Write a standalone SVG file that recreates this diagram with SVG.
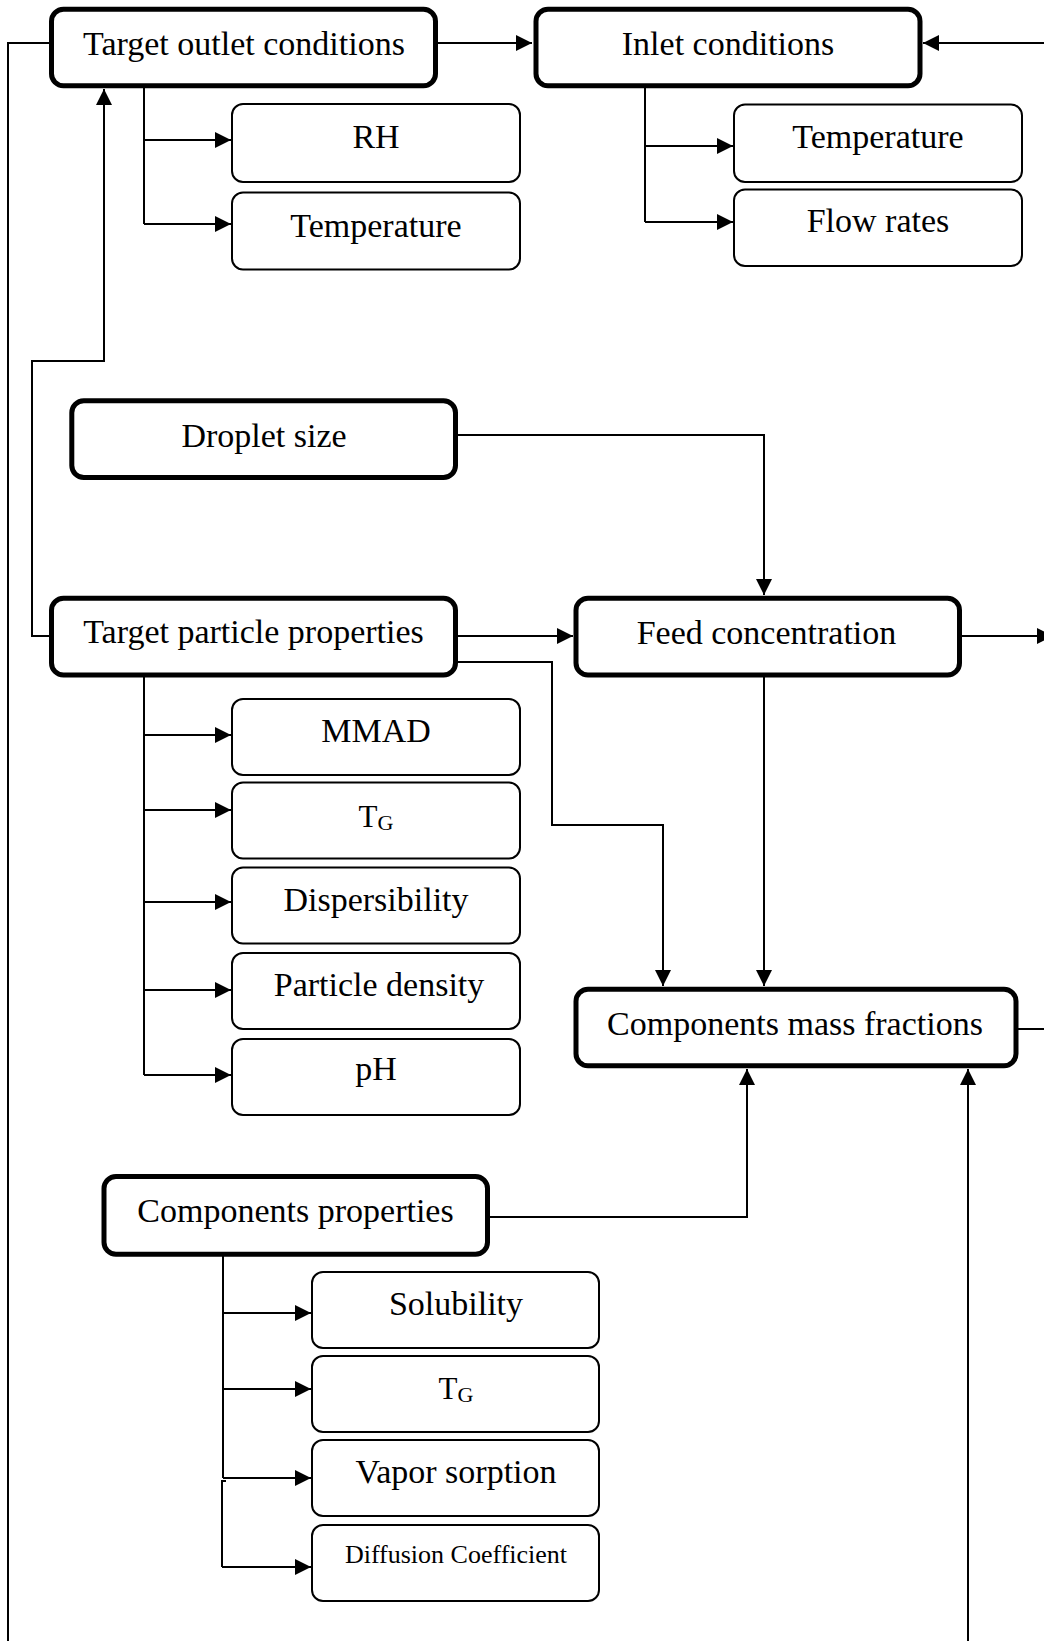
<svg xmlns="http://www.w3.org/2000/svg" width="1044" height="1641" viewBox="0 0 1044 1641">
<style>
.main{fill:#fff;stroke:#000;stroke-width:5}
.sub{fill:#fff;stroke:#000;stroke-width:2}
text{font-family:"Liberation Serif","Times New Roman",serif;font-size:34px;fill:#000;text-anchor:middle}
.small{font-size:26px}
.c{fill:none;stroke:#000;stroke-width:2}
</style>
<defs>
<marker id="ah" markerUnits="userSpaceOnUse" markerWidth="17" markerHeight="17" refX="16" refY="8" orient="auto">
<path d="M0,0 L16,8 L0,16 z" fill="#000"/>
</marker>
</defs>
<rect width="1044" height="1641" fill="#fff"/>
<g id="connectors">
<path class="c" d="M8,1641 V43 H49"/>
<path class="c" d="M438,43 H532" marker-end="url(#ah)"/>
<path class="c" d="M1044,43 H923" marker-end="url(#ah)"/>
<path class="c" d="M144,88 V224 M144,140 H231" marker-end="url(#ah)"/>
<path class="c" d="M144,224 H231" marker-end="url(#ah)"/>
<path class="c" d="M645,88 V222 M645,146 H733" marker-end="url(#ah)"/>
<path class="c" d="M645,222 H733" marker-end="url(#ah)"/>
<path class="c" d="M49,636 H32 V361 H104 V89" marker-end="url(#ah)"/>
<path class="c" d="M458,435 H764 V595" marker-end="url(#ah)"/>
<path class="c" d="M458,636 H573" marker-end="url(#ah)"/>
<path class="c" d="M458,662 H552 V825 H663 V986" marker-end="url(#ah)"/>
<path class="c" d="M962,636 H1053" marker-end="url(#ah)"/>
<path class="c" d="M764,677 V986" marker-end="url(#ah)"/>
<path class="c" d="M1018,1029 H1044"/>
<path class="c" d="M490,1217 H747 V1069" marker-end="url(#ah)"/>
<path class="c" d="M968,1641 V1069" marker-end="url(#ah)"/>
<path class="c" d="M144,677 V1075"/>
<path class="c" d="M144,735 H231" marker-end="url(#ah)"/>
<path class="c" d="M144,810 H231" marker-end="url(#ah)"/>
<path class="c" d="M144,902 H231" marker-end="url(#ah)"/>
<path class="c" d="M144,990 H231" marker-end="url(#ah)"/>
<path class="c" d="M144,1075 H231" marker-end="url(#ah)"/>
<path class="c" d="M223,1256 V1478"/>
<path class="c" d="M226,1481 H222 V1567"/>
<path class="c" d="M223,1313 H311" marker-end="url(#ah)"/>
<path class="c" d="M223,1389 H311" marker-end="url(#ah)"/>
<path class="c" d="M223,1478 H311" marker-end="url(#ah)"/>
<path class="c" d="M222,1567 H311" marker-end="url(#ah)"/>
</g>
<g id="target-outlet"><rect class="main" x="51.5" y="9.2" width="384" height="76.6" rx="12"/><text x="244" y="55">Target outlet conditions</text></g>
<g id="inlet"><rect class="main" x="536" y="9.2" width="384" height="76.6" rx="12"/><text x="728" y="55">Inlet conditions</text></g>
<g id="rh"><rect class="sub" x="232" y="104" width="288" height="78" rx="11"/><text x="376" y="148">RH</text></g>
<g id="outlet-temp"><rect class="sub" x="232" y="192.5" width="288" height="77" rx="11"/><text x="376" y="237">Temperature</text></g>
<g id="inlet-temp"><rect class="sub" x="734" y="104.5" width="288" height="77.5" rx="11"/><text x="878" y="148">Temperature</text></g>
<g id="flow"><rect class="sub" x="734" y="189.5" width="288" height="76.5" rx="11"/><text x="878" y="232">Flow rates</text></g>
<g id="droplet"><rect class="main" x="71.8" y="400.8" width="383.7" height="76.7" rx="12"/><text x="264" y="447">Droplet size</text></g>
<g id="target-particle"><rect class="main" x="51.5" y="598.3" width="404" height="76.7" rx="12"/><text x="253.5" y="643">Target particle properties</text></g>
<g id="feed"><rect class="main" x="576" y="598.3" width="383.5" height="76.7" rx="12"/><text x="766.5" y="644">Feed concentration</text></g>
<g id="mmad"><rect class="sub" x="232" y="699" width="288" height="76" rx="11"/><text x="376" y="742">MMAD</text></g>
<g id="tg1"><rect class="sub" x="232" y="782.5" width="288" height="76" rx="11"/><text x="376" y="827" style="font-size:31px">T<tspan style="font-size:22px" dy="3">G</tspan></text></g>
<g id="dispersibility"><rect class="sub" x="232" y="867.5" width="288" height="76" rx="11"/><text x="376" y="911">Dispersibility</text></g>
<g id="density"><rect class="sub" x="232" y="953" width="288" height="76" rx="11"/><text x="379" y="996">Particle density</text></g>
<g id="ph"><rect class="sub" x="232" y="1039" width="288" height="76" rx="11"/><text x="376" y="1080">pH</text></g>
<g id="mass-fractions"><rect class="main" x="576" y="989.2" width="440" height="76.6" rx="12"/><text x="795" y="1035">Components mass fractions</text></g>
<g id="comp-props"><rect class="main" x="104" y="1176.5" width="383.5" height="77.7" rx="12"/><text x="295.5" y="1222">Components properties</text></g>
<g id="solubility"><rect class="sub" x="312" y="1272" width="287" height="76" rx="11"/><text x="456" y="1315">Solubility</text></g>
<g id="tg2"><rect class="sub" x="312" y="1356" width="287" height="76" rx="11"/><text x="456" y="1399" style="font-size:31px">T<tspan style="font-size:22px" dy="3">G</tspan></text></g>
<g id="vapor"><rect class="sub" x="312" y="1440" width="287" height="76" rx="11"/><text x="456" y="1483">Vapor sorption</text></g>
<g id="diffusion"><rect class="sub" x="312" y="1525" width="287" height="76" rx="11"/><text class="small" x="456" y="1563">Diffusion Coefficient</text></g>
</svg>
